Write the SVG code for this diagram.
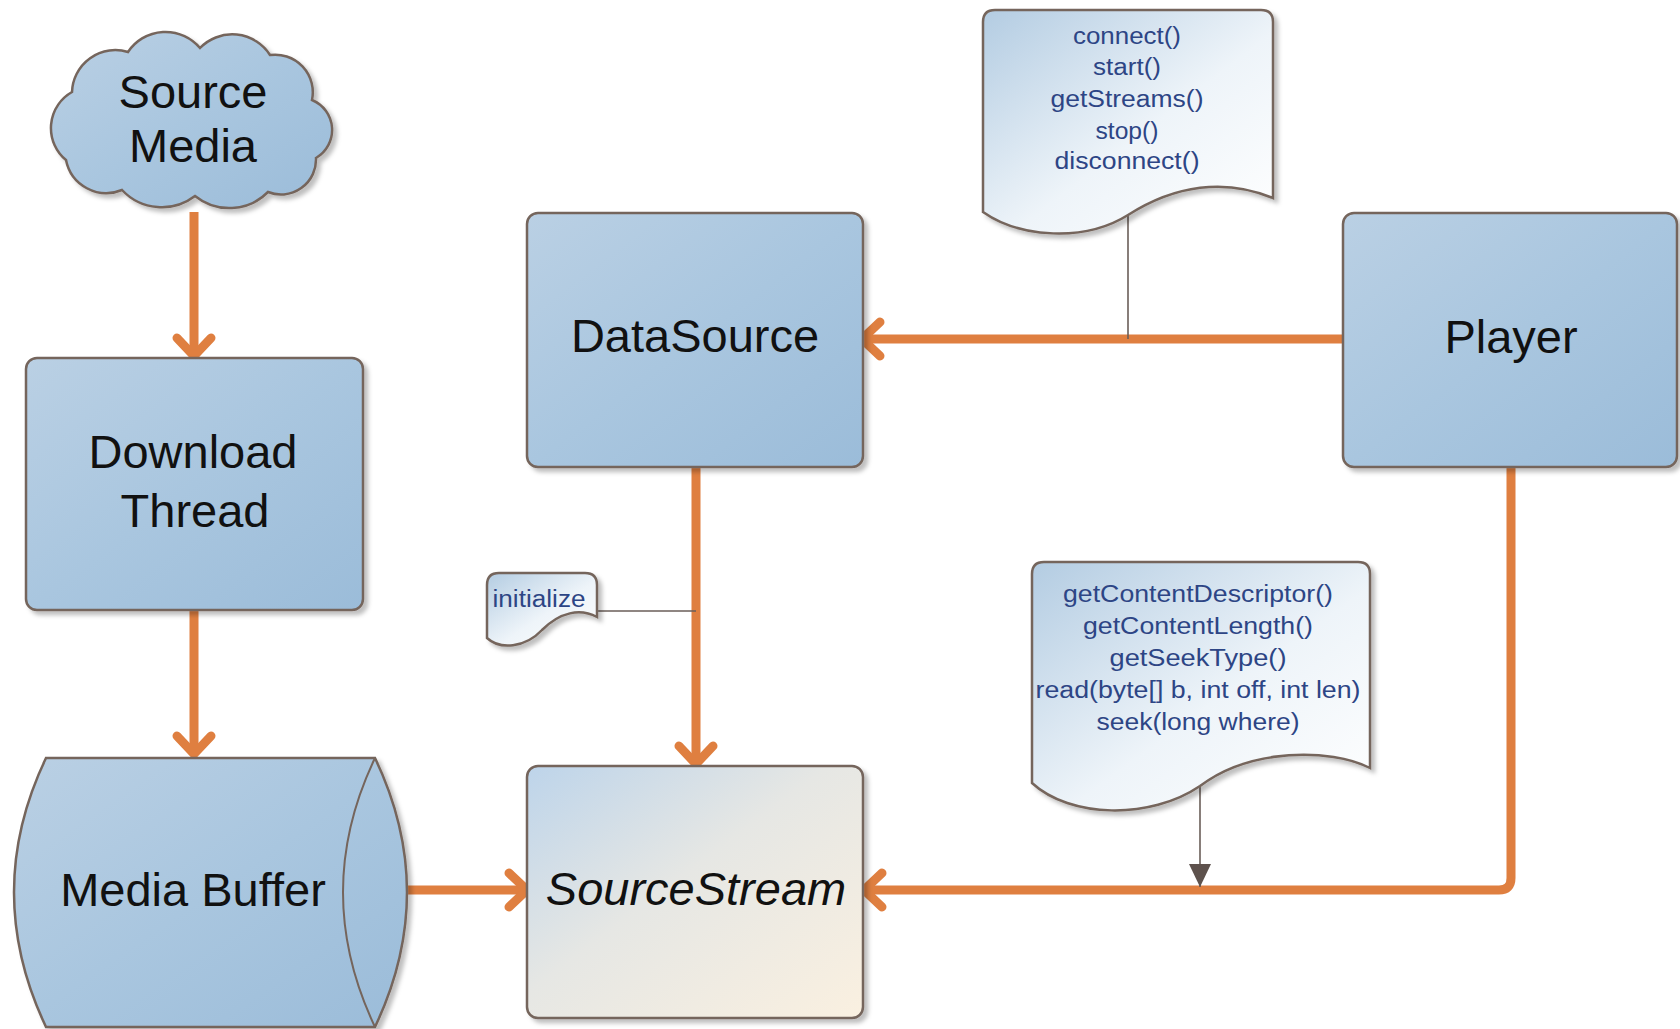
<svg xmlns="http://www.w3.org/2000/svg" width="1680" height="1029" viewBox="0 0 1680 1029">
<defs>
<linearGradient id="blue" x1="0" y1="0" x2="1" y2="1">
<stop offset="0" stop-color="#BAD0E4"/>
<stop offset="0.5" stop-color="#A9C6DF"/>
<stop offset="1" stop-color="#9BBCD9"/>
</linearGradient>
<linearGradient id="cream" x1="0" y1="0" x2="1" y2="1">
<stop offset="0" stop-color="#BDD4EA"/>
<stop offset="0.45" stop-color="#E6E7E4"/>
<stop offset="1" stop-color="#FAF0E0"/>
</linearGradient>
<linearGradient id="note" x1="0" y1="0" x2="1" y2="1">
<stop offset="0" stop-color="#B3CCE2"/>
<stop offset="0.55" stop-color="#EEF4F9"/>
<stop offset="1" stop-color="#FFFFFF"/>
</linearGradient>
<filter id="sh" x="-10%" y="-10%" width="125%" height="125%">
<feDropShadow dx="4" dy="4" stdDeviation="2" flood-color="#000" flood-opacity="0.25"/>
</filter>
<marker id="arr" markerUnits="userSpaceOnUse" viewBox="-28 -26 36 52" markerWidth="36" markerHeight="52" refX="0" refY="0" orient="auto" overflow="visible">
<path d="M-18,-17 L0,0 L-18,17" fill="none" stroke="#DF7F40" stroke-width="9" stroke-linecap="round" stroke-linejoin="round"/>
</marker>
<marker id="tri" markerUnits="userSpaceOnUse" viewBox="-24 -12 26 24" markerWidth="26" markerHeight="24" refX="0" refY="0" orient="auto" overflow="visible">
<path d="M-23,-11 L0,0 L-23,11 Z" fill="#5E524D"/>
</marker>
</defs>
<style>
.node{stroke:#75655C;stroke-width:2.5}
.lbl{font-family:"Liberation Sans",Arial,sans-serif;font-size:47px;fill:#111;text-anchor:middle}
.nt{font-family:"Liberation Sans",Arial,sans-serif;font-size:23px;fill:#2D4585;text-anchor:middle}
.flow{fill:none;stroke:#DF7F40;stroke-width:9;marker-end:url(#arr)}
.thin{fill:none;stroke:#6A5E58;stroke-width:1.6}
</style>
<rect width="1680" height="1029" fill="#FFFFFF"/>

<g id="connectors">
<path class="flow" d="M194,212 V356"/>
<path class="flow" d="M194,611 V754"/>
<path class="flow" d="M696,467 V764"/>
<path class="flow" d="M1343,339 H862"/>
<path class="flow" d="M407,890 H527"/>
<path class="flow" d="M1511,467 V878 Q1511,890 1499,890 H864"/>
<path class="thin" d="M1128,215 V339"/>
<path class="thin" d="M597,611 H696"/>
<path class="thin" d="M1200,786 V887" marker-end="url(#tri)"/>
</g>

<g id="source-media">
<path class="node" filter="url(#sh)" fill="url(#blue)" d="M72,92 A43.3,43.3 0 0 1 128,52 A45,45 0 0 1 200,48 A44.9,44.9 0 0 1 270,55 A37.6,37.6 0 0 1 312,100 A32.4,32.4 0 0 1 316,158 A35,35 0 0 1 268,192 A54.7,54.7 0 0 1 195,196 A54.7,54.7 0 0 1 122,190 A41.1,41.1 0 0 1 66,160 A41.4,41.4 0 0 1 72,92 Z"/>
<text class="lbl" x="193" y="108">Source</text>
<text class="lbl" x="193" y="162">Media</text>
</g>

<g id="download-thread">
<rect class="node" filter="url(#sh)" fill="url(#blue)" x="26" y="358" width="337" height="252" rx="11"/>
<text class="lbl" x="193" y="468">Download</text>
<text class="lbl" x="195" y="527">Thread</text>
</g>

<g id="media-buffer">
<path class="node" filter="url(#sh)" fill="url(#blue)" d="M46,758 H375 Q439,892 375,1027 H46 Q-18,892 46,758 Z"/>
<path fill="none" stroke="#75655C" stroke-width="2" d="M375,758 Q311,892 375,1027"/>
<text class="lbl" x="193" y="906">Media Buffer</text>
</g>

<g id="datasource">
<rect class="node" filter="url(#sh)" fill="url(#blue)" x="527" y="213" width="336" height="254" rx="11"/>
<text class="lbl" x="695" y="352">DataSource</text>
</g>

<g id="player">
<rect class="node" filter="url(#sh)" fill="url(#blue)" x="1343" y="213" width="334" height="254" rx="11"/>
<text class="lbl" x="1511" y="353">Player</text>
</g>

<g id="sourcestream">
<rect class="node" filter="url(#sh)" fill="url(#cream)" x="527" y="766" width="336" height="252" rx="11"/>
<text class="lbl" x="696" y="905" font-style="italic">SourceStream</text>
</g>

<g id="note-datasource">
<path class="node" filter="url(#sh)" fill="url(#note)" d="M995,10 H1261 Q1273,10 1273,22 V198 C1225,178 1175,185 1128,215 C1085,242 1020,238 983,212 V22 Q983,10 995,10 Z"/>
<text class="nt" x="1127" y="44" textLength="108" lengthAdjust="spacingAndGlyphs">connect()</text>
<text class="nt" x="1127" y="75" textLength="68" lengthAdjust="spacingAndGlyphs">start()</text>
<text class="nt" x="1127" y="107" textLength="153" lengthAdjust="spacingAndGlyphs">getStreams()</text>
<text class="nt" x="1127" y="139" textLength="63" lengthAdjust="spacingAndGlyphs">stop()</text>
<text class="nt" x="1127" y="169" textLength="145" lengthAdjust="spacingAndGlyphs">disconnect()</text>
</g>

<g id="note-initialize">
<path class="node" filter="url(#sh)" fill="url(#note)" d="M499,573 H585 Q597,573 597,585 V617 C580,608 560,612 542,630 C525,648 500,650 487,638 V585 Q487,573 499,573 Z"/>
<text class="nt" x="539" y="607" textLength="93" lengthAdjust="spacingAndGlyphs">initialize</text>
</g>

<g id="note-sourcestream">
<path class="node" filter="url(#sh)" fill="url(#note)" d="M1044,562 H1358 Q1370,562 1370,574 V768 C1330,748 1250,748 1200,786 C1150,820 1070,818 1032,783 V574 Q1032,562 1044,562 Z"/>
<text class="nt" x="1198" y="602" textLength="270" lengthAdjust="spacingAndGlyphs">getContentDescriptor()</text>
<text class="nt" x="1198" y="634" textLength="230" lengthAdjust="spacingAndGlyphs">getContentLength()</text>
<text class="nt" x="1198" y="666" textLength="177" lengthAdjust="spacingAndGlyphs">getSeekType()</text>
<text class="nt" x="1198" y="698" textLength="325" lengthAdjust="spacingAndGlyphs">read(byte[] b, int off, int len)</text>
<text class="nt" x="1198" y="730" textLength="203" lengthAdjust="spacingAndGlyphs">seek(long where)</text>
</g>
</svg>
